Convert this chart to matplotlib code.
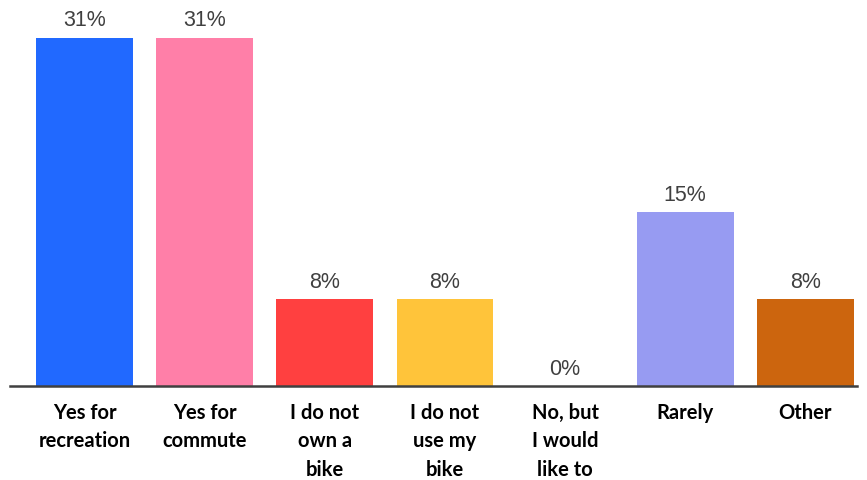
import matplotlib
matplotlib.use("Agg")
import matplotlib.pyplot as plt

categories = ["Yes for\nrecreation", "Yes for\ncommute", "I do not\nown a\nbike",
              "I do not\nuse my\nbike", "No, but\nI would\nlike to", "Rarely", "Other"]
values = [30.77, 30.77, 7.69, 7.69, 0.0, 15.38, 7.69]
colors = ["#2169FF", "#FF7FA8", "#FF4040", "#FFC43A", "#FFFFFF", "#979BF2", "#CC650E"]

fig = plt.figure(figsize=(8.67, 4.8), dpi=100)
ax = fig.add_axes([10/867, 1 - 386/480, 847/867, 386/480])

x = list(range(len(categories)))
ax.bar(x, values, width=0.805, color=colors, zorder=2)

for xi, v in zip(x, values):
    ax.text(xi, v + 0.55, f"{v:.0f}%", ha="center", va="bottom",
            fontsize=15.5, color="#404040", family="Liberation Sans")

ax.set_xlim(-0.62, 6.43)
ax.set_ylim(0, 34.1)
ax.set_xticks(x)
ax.set_xticklabels(categories, fontsize=14.5, fontweight="bold", family="Lato",
                   color="black", linespacing=1.55, va="top")
ax.tick_params(axis="x", length=0, pad=12)
ax.set_yticks([])
for s in ["top", "right", "left"]:
    ax.spines[s].set_visible(False)
ax.spines["bottom"].set_color("#404040")
ax.spines["bottom"].set_linewidth(1.8)

fig.savefig("out.png", dpi=100)
